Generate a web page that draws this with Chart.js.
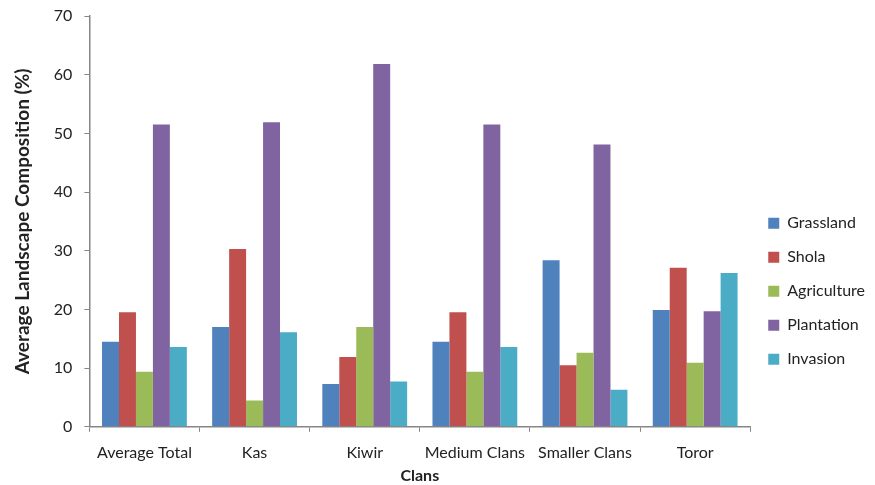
<!DOCTYPE html>
<html>
<head>
<meta charset="utf-8">
<script src="https://cdn.jsdelivr.net/npm/chart.js@4.4.1/dist/chart.umd.min.js"></script>
<style>
  html, body { margin: 0; padding: 0; background: #fff; }
  #wrap { width: 875px; height: 485px; }
</style>
</head>
<body>
<div id="wrap"><canvas id="c"></canvas></div>
<script>
const clans = ["Average Total", "Kas", "Kiwir", "Medium Clans", "Smaller Clans", "Toror"];
const grassland = [14.5, 17.0, 7.3, 14.5, 28.4, 19.9];
const shola = [19.5, 30.3, 11.9, 19.5, 10.5, 27.1];
const agriculture = [9.4, 4.5, 17.0, 9.4, 12.6, 10.9];
const plantation = [51.5, 51.9, 61.8, 51.5, 48.1, 19.7];
const invasion = [13.6, 16.1, 7.7, 13.6, 6.3, 26.2];

const axisColor = "#868686";
const textColor = "#222";
const fontFamily = "Lato, 'Open Sans', sans-serif";

function series(label, data, color) {
  return {
    label: label,
    data: data,
    backgroundColor: color,
    borderWidth: 0,
    categoryPercentage: 0.77,
    barPercentage: 1.0
  };
}

const ctx = document.getElementById("c").getContext("2d");
const chart = new Chart(ctx, {
  type: "bar",
  data: {
    labels: clans,
    datasets: [
      series("Grassland", grassland, "#4F81BD"),
      series("Shola", shola, "#C0504D"),
      series("Agriculture", agriculture, "#9BBB59"),
      series("Plantation", plantation, "#8064A2"),
      series("Invasion", invasion, "#4BACC6")
    ]
  },
  options: {
    responsive: true,
    maintainAspectRatio: false,
    animation: false,
    layout: {
      padding: { top: 16, right: 0, left: 11, bottom: 1 }
    },
    scales: {
      x: {
        grid: {
          drawOnChartArea: false,
          drawTicks: true,
          tickLength: 5,
          color: axisColor
        },
        border: { color: axisColor, width: 1.5 },
        ticks: {
          color: textColor,
          font: { family: fontFamily, size: 16 },
          maxRotation: 0,
          autoSkip: false,
          padding: 11
        },
        title: {
          display: true,
          text: "Clans",
          color: textColor,
          font: { family: fontFamily, size: 16, weight: "bold", lineHeight: 1.0 },
          padding: { top: -5, bottom: 0 }
        }
      },
      y: {
        min: 0,
        max: 70,
        afterFit: (scale) => {
          // let the top label hang over the padding like the original
          scale.paddingTop = 0;
          scale.paddingBottom = 0;
        },
        ticks: {
          stepSize: 10,
          color: textColor,
          font: { family: fontFamily, size: 16 },
          padding: 12
        },
        grid: {
          drawOnChartArea: false,
          drawTicks: true,
          tickLength: 5,
          color: axisColor
        },
        border: { color: axisColor, width: 1.5 },
        title: {
          display: true,
          text: "Average Landscape Composition (%)",
          color: textColor,
          font: { family: fontFamily, size: 19, weight: "bold" },
          padding: { top: 0, bottom: 8 }
        }
      }
    },
    plugins: {
      legend: {
        position: "right",
        align: "center",
        title: {
          display: true,
          text: " ",
          padding: { top: 0, bottom: 68 }
        },
        labels: {
          boxWidth: 11,
          boxHeight: 11,
          padding: 18,
          color: textColor,
          font: { family: fontFamily, size: 16 }
        }
      },
      tooltip: { enabled: false }
    }
  }
});
</script>
</body>
</html>
